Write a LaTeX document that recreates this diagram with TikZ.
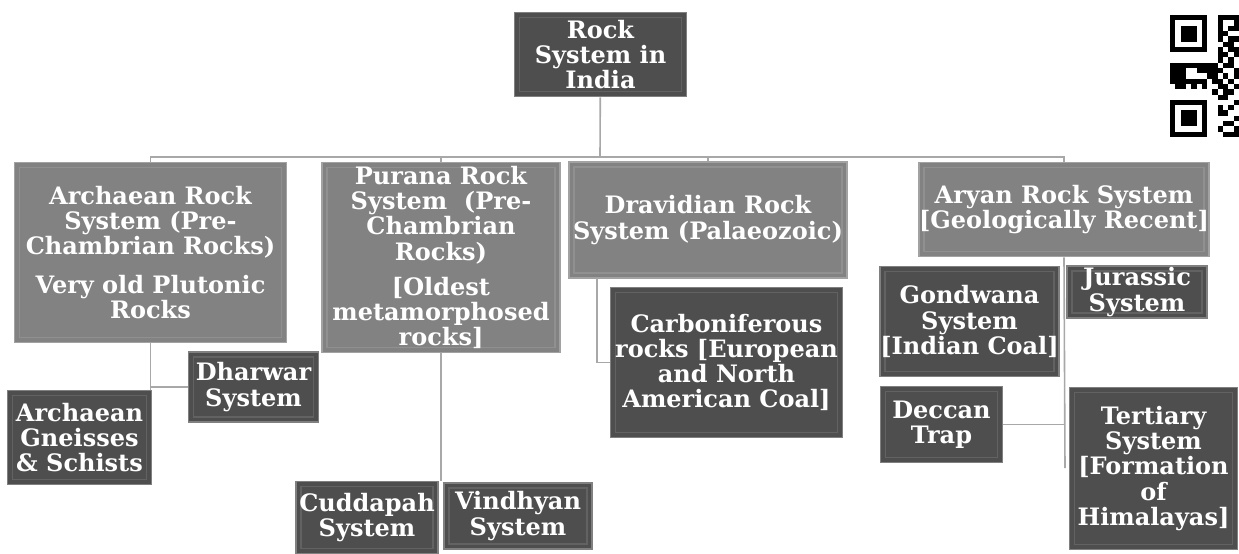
\documentclass[tikz,border=0pt]{standalone}
\usepackage{fontspec}
\usepackage{xcolor}
\usepackage{tikz}
\usetikzlibrary{positioning}
\setmainfont{DejaVu Serif}

\definecolor{lightfill}{HTML}{828282}
\definecolor{lightedge}{HTML}{A2A2A2}
\definecolor{darkfill}{HTML}{4E4E4E}
\definecolor{darkedge}{HTML}{808080}
\definecolor{linkgray}{HTML}{A8A8A8}

\tikzset{
  rockbox/.style={rectangle, inner sep=0pt, align=center, text=white,
    font=\fontsize{12}{12.6}\selectfont\bfseries, line width=0.8pt,
    path picture={\draw[#1, line width=0.9pt]
      ([shift={(2.5pt,-2.5pt)}]path picture bounding box.north west) rectangle
      ([shift={(-2.5pt,2.5pt)}]path picture bounding box.south east);}},
  lightbox/.style={rockbox=lightedge!45!lightfill, fill=lightfill, draw=lightedge},
  darkbox/.style={rockbox=darkedge!40!darkfill, fill=darkfill, draw=darkedge},
  link/.style={draw=linkgray, line width=0.8pt},
}

\begin{document}
\begin{tikzpicture}[x=0.5pt,y=-0.5pt]
\useasboundingbox (0,0) rectangle (1239,553);

% top level
\node[darkbox, minimum width=86pt, minimum height=42pt] (root) at (600.5,54.5)
  {Rock\\System in\\India};

% rock systems
\node[lightbox, minimum width=136pt, minimum height=90pt] (arch) at (150.5,252.5)
  {Archaean Rock\\System (Pre-\\Chambrian Rocks)\\[7pt]Very old Plutonic\\Rocks};
\node[lightbox, minimum width=119pt, minimum height=95pt] (pur) at (441,257.5)
  {Purana Rock\\System~~(Pre-\\Chambrian\\Rocks)\\[5pt]{[}Oldest\\metamorphosed\\rocks{]}};
\node[lightbox, minimum width=139pt, minimum height=58pt] (drav) at (708,220)
  {Dravidian Rock\\System (Palaeozoic)};
\node[lightbox, minimum width=143pt, minimum height=47pt] (arya) at (1064,209.5)
  {Aryan Rock System\\{[}Geologically Recent{]}};

% sub systems
\node[darkbox, minimum width=65pt, minimum height=35pt] (dhar) at (253.5,387)
  {Dharwar\\System};
\node[darkbox, minimum width=72pt, minimum height=47pt] (gnei) at (79.5,437.5)
  {Archaean\\Gneisses\\\& Schists};
\node[darkbox, minimum width=71pt, minimum height=36pt] (cudd) at (367,517.5)
  {Cuddapah\\System};
\node[darkbox, minimum width=74pt, minimum height=33pt] (vind) at (518,516)
  {Vindhyan\\System};
\node[darkbox, minimum width=116pt, minimum height=75pt] (carb) at (726.5,362.5)
  {Carboniferous\\rocks {[}European\\and North\\American Coal{]}};
\node[darkbox, minimum width=89pt, minimum height=55pt] (gond) at (969.5,321.5)
  {Gondwana\\System\\{[}Indian Coal{]}};
\node[darkbox, minimum width=70pt, minimum height=26pt] (jura) at (1137,292)
  {Jurassic\\System};
\node[darkbox, minimum width=61pt, minimum height=38pt] (decc) at (941.5,424.5)
  {Deccan\\Trap};
\node[darkbox, minimum width=84pt, minimum height=81pt] (tert) at (1153.5,468.5)
  {Tertiary\\System\\{[}Formation\\of\\Himalayas{]}};

% connectors
\coordinate (bus) at (600,157);
\coordinate (dravdrop) at (597,278);
\coordinate (aryaend) at (1065,468);
\draw[link] (root) -- (bus);
\draw[link] (arch.north) -- (arch.north |- bus) -- (arya.north |- bus) -- (arya.north);
\draw[link] (pur.north |- bus) -- (pur.north);
\draw[link] (drav.north |- bus) -- (drav.north);
\draw[link] (arch.south) -- (arch.south |- gnei.north);
\draw[link] (arch.south |- dhar.west) -- (dhar.west);
\draw[link] (pur.south) -- (pur.south |- cudd.north);
\draw[link] (dravdrop) -- (dravdrop |- carb.west) -- (carb.west);
\draw[link] (arya.south) -- (aryaend);
\draw[link] (decc.east) -- (decc.east -| aryaend);

% qr mark
\begin{scope}[shift={(1170,15)}, x=2.65pt, y=-2.65pt]
\foreach \r in {0,16} {
  \fill[black] (0,\r) rectangle (7,\r+7);
  \fill[white] (1,\r+1) rectangle (6,\r+6);
  \fill[black] (2,\r+2) rectangle (5,\r+5);
}
\foreach \c/\r in {9/0,10/0,11/0,12/0,9/1,12/1,9/2,11/2,12/2,9/3,10/3,9/4,11/4,12/4,
    10/5,11/5,9/6,11/6,12/6,9/7,10/7,12/7,9/8,11/8,
    0/9,1/9,2/9,3/9,4/9,5/9,6/9,7/9,8/9,10/9,11/9,
    0/10,1/10,2/10,5/10,6/10,7/10,8/10,9/10,12/10,
    0/11,1/11,2/11,7/11,8/11,10/11,12/11,
    0/12,1/12,2/12,3/12,4/12,5/12,6/12,8/12,9/12,11/12,
    1/13,2/13,4/13,6/13,9/13,10/13,12/13,
    8/14,10/14,11/14,
    9/15,10/15,12/16,9/17,11/17,9/18,10/18,12/19,10/20,11/20,9/21,12/21,10/22,11/22,12/22}
  \fill[black] (\c,\r) rectangle (\c+1,\r+1);
\end{scope}
\end{tikzpicture}
\end{document}
